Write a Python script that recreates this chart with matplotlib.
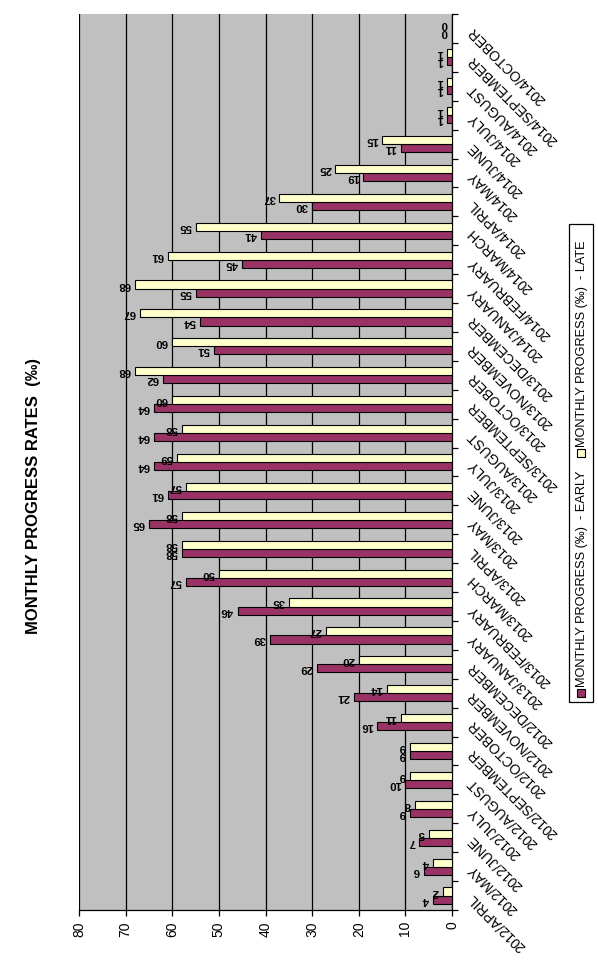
import numpy as np
import matplotlib
matplotlib.use("Agg")
import matplotlib.pyplot as plt
import matplotlib.patches as mpatches

plt.rcParams['font.family'] = ['Liberation Sans', 'DejaVu Sans']

months = [
    "2012/APRIL", "2012/MAY", "2012/JUNE", "2012/JULY", "2012/AUGUST",
    "2012/SEPTEMBER", "2012/OCTOBER", "2012/NOVEMBER", "2012/DECEMBER",
    "2013/JANUARY", "2013/FEBRUARY", "2013/MARCH", "2013/APRIL", "2013/MAY",
    "2013/JUNE", "2013/JULY", "2013/AUGUST", "2013/SEPTEMBER", "2013/OCTOBER",
    "2013/NOVEMBER", "2013/DECEMBER", "2014/JANUARY", "2014/FEBRUARY",
    "2014/MARCH", "2014/APRIL", "2014/MAY", "2014/JUNE", "2014/JULY",
    "2014/AUGUST", "2014/SEPTEMBER", "2014/OCTOBER",
]
early = [4, 6, 7, 9, 10, 9, 16, 21, 29, 39, 46, 57, 58, 65, 61, 64, 64, 64,
         62, 51, 54, 55, 45, 41, 30, 19, 11, 1, 1, 1, 0]
late = [2, 4, 5, 8, 9, 9, 11, 14, 20, 27, 35, 50, 58, 58, 57, 59, 58, 60,
        68, 60, 67, 68, 61, 55, 37, 25, 15, 1, 1, 1, 0]
value_ticks = [0, 10, 20, 30, 40, 50, 60, 70, 80]

title = "MONTHLY PROGRESS RATES  (\u2030)"
legend_labels = ["MONTHLY PROGRESS (\u2030)  - EARLY", "MONTHLY PROGRESS (\u2030)  - LATE"]
purple = "#993366"
cream = "#FFFFCC"

W, H = 598, 977
fig = plt.figure(figsize=(W / 100, H / 100), dpi=100)
ax = fig.add_axes([79 / W, 1 - 910 / H, (452 - 79) / W, (910 - 14) / H])
ax.set_facecolor("#C0C0C0")

y = np.arange(len(months))
bh = 0.28
b1 = ax.barh(y - bh / 2, early, height=bh, color=purple, edgecolor="black", lw=0.8, zorder=3)
b2 = ax.barh(y + bh / 2, late, height=bh, color=cream, edgecolor="black", lw=0.8, zorder=3)

# value labels, upside down like the rotated original
for bars, vals in ((b1, early), (b2, late)):
    for rect, v in zip(bars, vals):
        ax.annotate(str(v), (v, rect.get_y() + rect.get_height() / 2),
                    xytext=(-3, 0), textcoords="offset points",
                    rotation=180, ha="right", va="center",
                    fontsize=8.2, fontweight="bold", zorder=4)

ax.set_xlim(80, 0)
ax.set_ylim(-0.5, len(months) - 0.5)
ax.set_xticks(value_ticks)
ax.set_xticklabels([str(t) for t in value_ticks], rotation=90, fontsize=10)
ax.xaxis.grid(True, color="black", lw=0.9)
ax.set_axisbelow(True)
ax.tick_params(axis="x", length=4, width=0.9, pad=4)

ax.yaxis.tick_right()
ax.set_yticks(y)
ax.set_yticklabels(months, rotation=135, rotation_mode="anchor",
                   ha="right", va="center", fontsize=10)
ax.set_yticks(np.arange(-0.5, len(months), 1), minor=True)
ax.tick_params(axis="y", which="major", length=0, pad=13)
ax.tick_params(axis="y", which="minor", length=4, width=0.9, direction="out")

for s in ("top", "left"):
    ax.spines[s].set_visible(False)
for s in ("bottom", "right"):
    ax.spines[s].set_linewidth(0.9)

fig.text(34 / W, 1 - 496 / H, title, rotation=90, ha="center", va="center",
         fontsize=12, fontweight="bold")

# legend, drawn rotated like the rest of the chart
fig.patches.append(mpatches.Rectangle((569 / W, 1 - 702 / H), 24 / W, 478 / H,
                                      transform=fig.transFigure, fill=False,
                                      edgecolor="black", lw=0.9))
for col, lab, ysq in ((purple, legend_labels[0], 697), (cream, legend_labels[1], 457)):
    fig.patches.append(mpatches.Rectangle((577 / W, 1 - ysq / H), 8 / W, 8 / H,
                                          transform=fig.transFigure,
                                          facecolor=col, edgecolor="black", lw=0.8))
    fig.text(582 / W, 1 - (ysq - 10) / H, lab, rotation=90, ha="center", va="bottom",
             fontsize=9.2)

fig.savefig("out.png", dpi=100)
